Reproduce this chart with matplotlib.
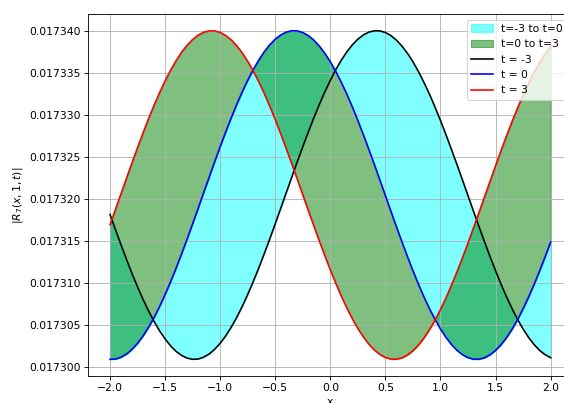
import numpy as np
import matplotlib
matplotlib.use("Agg")
import matplotlib.pyplot as plt
from matplotlib.ticker import FormatStrFormatter

# x sample positions, step 0.05
x = np.linspace(-2.0, 2.0, 81)

# |R_7(x, 1, t)| at t = -3, 0, 3 (units of 1e-8)
r_tm3 = np.array([
    1731818, 1731635, 1731455, 1731281, 1731113, 1730954, 1730805, 1730667,
    1730542, 1730430, 1730333, 1730251, 1730185, 1730137, 1730105, 1730091,
    1730094, 1730116, 1730154, 1730210, 1730282, 1730370, 1730473, 1730590,
    1730721, 1730864, 1731017, 1731179, 1731350, 1731526, 1731708, 1731892,
    1732078, 1732263, 1732447, 1732627, 1732802, 1732970, 1733130, 1733280,
    1733419, 1733546, 1733659, 1733758, 1733841, 1733909, 1733959, 1733993,
    1734009, 1734007, 1733988, 1733951, 1733897, 1733826, 1733740, 1733638,
    1733522, 1733392, 1733252, 1733099, 1732938, 1732768, 1732592, 1732411,
    1732227, 1732041, 1731855, 1731671, 1731491, 1731315, 1731146, 1730985,
    1730834, 1730694, 1730566, 1730451, 1730351, 1730266, 1730197, 1730145,
    1730110]) * 1e-8
r_t0 = np.array([
    1730091, 1730094, 1730116, 1730154, 1730210, 1730282, 1730370, 1730473,
    1730590, 1730721, 1730864, 1731017, 1731179, 1731350, 1731526, 1731708,
    1731892, 1732078, 1732263, 1732447, 1732627, 1732802, 1732970, 1733130,
    1733280, 1733419, 1733546, 1733659, 1733758, 1733841, 1733909, 1733959,
    1733993, 1734009, 1734007, 1733988, 1733951, 1733897, 1733826, 1733740,
    1733638, 1733522, 1733392, 1733252, 1733099, 1732938, 1732768, 1732592,
    1732411, 1732227, 1732041, 1731855, 1731671, 1731491, 1731315, 1731146,
    1730985, 1730834, 1730694, 1730566, 1730451, 1730351, 1730266, 1730197,
    1730145, 1730110, 1730092, 1730092, 1730110, 1730145, 1730197, 1730266,
    1730351, 1730451, 1730566, 1730695, 1730834, 1730985, 1731146, 1731315,
    1731490]) * 1e-8
r_t3 = np.array([
    1731696, 1731881, 1732067, 1732252, 1732436, 1732616, 1732792, 1732961,
    1733121, 1733271, 1733411, 1733539, 1733653, 1733753, 1733837, 1733905,
    1733957, 1733991, 1734008, 1734007, 1733989, 1733953, 1733900, 1733831,
    1733745, 1733644, 1733529, 1733401, 1733261, 1733109, 1732948, 1732778,
    1732602, 1732422, 1732238, 1732052, 1731866, 1731682, 1731502, 1731326,
    1731156, 1730995, 1730843, 1730702, 1730574, 1730458, 1730357, 1730271,
    1730201, 1730148, 1730112, 1730093, 1730092, 1730108, 1730142, 1730193,
    1730261, 1730345, 1730445, 1730558, 1730685, 1730825, 1730976, 1731136,
    1731304, 1731480, 1731660, 1731844, 1732029, 1732215, 1732400, 1732581,
    1732757, 1732927, 1733089, 1733242, 1733384, 1733515, 1733631, 1733734,
    1733821]) * 1e-8

DPI = 77
fig = plt.figure(figsize=(564 / DPI, 403 / DPI), dpi=DPI)
ax = fig.add_axes([0.156, 0.0677, 0.8594, 0.8968])

ax.fill_between(x, r_tm3, r_t0, color='cyan', alpha=0.5, label='t=-3 to t=0')
ax.fill_between(x, r_t0, r_t3, color='green', alpha=0.5, label='t=0 to t=3')
ax.plot(x, r_tm3, color='black', label='t = -3')
ax.plot(x, r_t0, color='blue', label='t = 0')
ax.plot(x, r_t3, color='red', label='t = 3')

ax.set_xlabel('x')
ax.set_ylabel(r'$|R_7(x, 1, t)|$')
ax.yaxis.set_major_formatter(FormatStrFormatter('%.6f'))
ax.grid(True)
ax.legend(loc='upper right')

fig.savefig('out.png', dpi=DPI)
